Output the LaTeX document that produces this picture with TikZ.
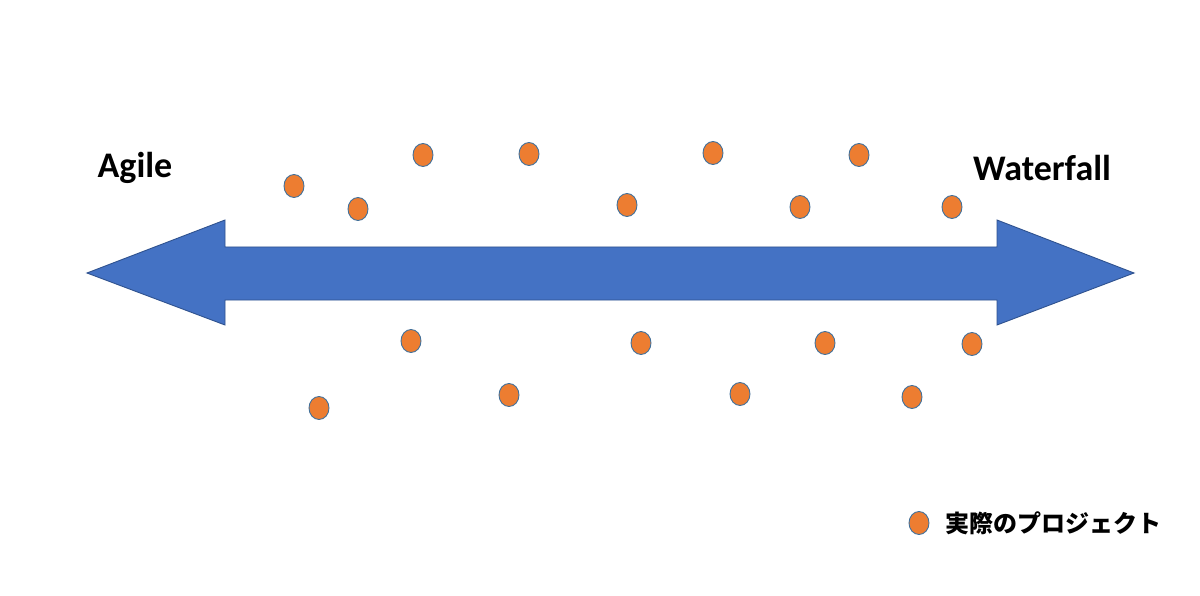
\documentclass[tikz,border=0pt]{standalone}
\usetikzlibrary{shapes.geometric}
\usepackage{fontspec}
\setmainfont{Carlito}
\newfontfamily\jpfont{Noto Sans CJK JP}
\definecolor{arrowblue}{HTML}{4472C4}
\definecolor{arrowedge}{HTML}{2F528F}
\definecolor{dotorange}{HTML}{ED7D31}
\definecolor{dotedge}{HTML}{41719C}
\begin{document}
\begin{tikzpicture}[x=1pt,y=-1pt,
  proj/.style={ellipse, draw=dotedge, line width=0.9pt, fill=dotorange, minimum width=20pt, minimum height=23pt, inner sep=0pt},
  endlabel/.style={font=\fontsize{36}{40}\selectfont\bfseries, inner sep=0pt, anchor=center}]
\useasboundingbox (0,0) rectangle (1200,596);
\fill[white] (0,0) rectangle (1200,596);
% double arrow
\draw[fill=arrowblue, draw=arrowedge, line width=0.9pt, line join=miter]
  (87,273) -- (225,220) -- (225,247) -- (997,247) -- (997,220) -- (1134,273)
  -- (997,325) -- (997,300) -- (225,300) -- (225,325) -- cycle;
\node[endlabel] (agile) at (135,168) {Agile};
\node[endlabel] (waterfall) at (1042,168) {Waterfall};
% projects
\foreach \n/\px/\py in {a/294/186, b/358/209, c/423/155, d/529/154, e/627/205, f/713/153, g/859/155, h/800/207, i/952/207, j/411/341, k/641/343, l/825/343, m/972/344, n/319/408, o/509/395, p/740/394, q/912/397}
  \node[proj] (p\n) at (\px,\py) {};
% legend
\node[proj] (legdot) at (919,523) {};
\node[font=\jpfont\fontsize{24}{28}\selectfont\bfseries, anchor=west, inner sep=0pt] (legtext) at (945,523) {実際のプロジェクト};
\end{tikzpicture}
\end{document}
